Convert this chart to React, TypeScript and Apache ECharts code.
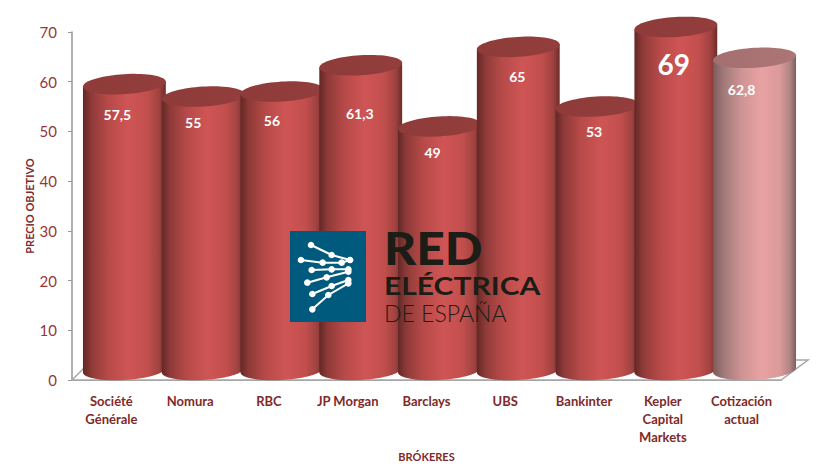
import React, { useEffect, useRef } from "react";
import * as echarts from "echarts";

const categories = ["Société\nGénérale", "Nomura", "RBC", "JP Morgan", "Barclays", "UBS", "Bankinter", "Kepler\nCapital\nMarkets", "Cotización\nactual"];
const targetValues = [57.5, 55, 56, 61.3, 49, 65, 53, 69, 62.8];
const valueLabels = ["57,5", "55", "56", "61,3", "49", "65", "53", "69", "62,8"];
const yTicks = { min: 0, max: 70, interval: 10 };
const yAxisTitle = "PRECIO OBJETIVO";
const xAxisTitle = "BRÓKERES";

// hand placement of the data labels, relative to the front plane value position
const labelNudgeX = [-6, -9, -9, 0, -6, 0, -2, -1, -12];
const labelNudgeY = [20, 16, 19, 38, 16, 20, 15, 27, 22];

const DEPTH_X = 12;
const DEPTH_Y = 10;
const RX = 41.5;
const RY = 10;
const TILT = (-3.5 * Math.PI) / 180;
const WIDE_BAR_SHIFT = 1;

function ellipsePts(cx: number, cy: number, from = 0, to = Math.PI * 2, n = 72) {
  const pts: number[][] = [];
  for (let i = 0; i <= n; i++) {
    const a = from + ((to - from) * i) / n;
    const x = RX * Math.cos(a);
    const y = RY * Math.sin(a);
    pts.push([cx + x * Math.cos(TILT) - y * Math.sin(TILT), cy + x * Math.sin(TILT) + y * Math.cos(TILT)]);
  }
  return pts;
}

function grad(stops: [number, string][]) {
  return new echarts.graphic.LinearGradient(0, 0, 1, 0, stops.map(([offset, color]) => ({ offset, color })));
}

const isRef = (i: number) => i === categories.length - 1;

function renderItem(params: any, api: any) {
  const i = api.value(0);
  const top = api.coord([i, api.value(1)]);
  const base = api.coord([i, 0]);
  const cx = top[0] + DEPTH_X + WIDE_BAR_SHIFT;
  const topY = top[1] - DEPTH_Y;
  const baseY = base[1] - DEPTH_Y;
  const light = isRef(i);
  const children: any[] = [];
  if (i === 0) {
    const cs = params.coordSys;
    const l = cs.x, r = cs.x + cs.width, b = cs.y + cs.height;
    children.push({
      type: "polygon",
      shape: { points: [[l, b], [r, b], [r + 27, b - 20], [l + 20, b - 20]] },
      style: { fill: "#fff", stroke: "#a6a6a6", lineWidth: 1.5 },
    });
  }
  const bodyPts = [
    ...ellipsePts(cx, baseY, 0, Math.PI),
    ...ellipsePts(cx, topY, Math.PI, Math.PI, 1).slice(0, 1),
    ...ellipsePts(cx, topY, 0, 0, 1).slice(0, 1),
  ];
  children.push({
    type: "polygon",
    shape: { points: bodyPts },
    style: {
      fill: light
        ? grad([[0, "#7d5b5b"], [0.12, "#a07878"], [0.35, "#d09494"], [0.58, "#e8a2a2"], [0.8, "#dc9a9a"], [0.93, "#b08484"], [1, "#7d5e5e"]])
        : grad([[0, "#622826"], [0.1, "#8e3a38"], [0.3, "#b64a48"], [0.55, "#cf5555"], [0.78, "#c24f4d"], [0.92, "#9f4240"], [1, "#6c2d2b"]]),
    },
  });
  children.push({
    type: "polygon",
    shape: { points: ellipsePts(cx, topY) },
    style: { fill: light ? grad([[0, "#a56f6f"], [1, "#ac7676"]]) : grad([[0, "#8e3b39"], [1, "#933e3c"]]) },
  });
  children.push({
    type: "text",
    style: {
      x: top[0] + DEPTH_X + labelNudgeX[i],
      y: top[1] + labelNudgeY[i],
      text: valueLabels[i],
      fill: "#fff",
      fontFamily: "Lato",
      fontWeight: "bold",
      fontSize: api.value(1) === Math.max(...targetValues) ? 28 : 14,
      align: "center",
      verticalAlign: "middle",
    },
  });
  return { type: "group", children };
}

const logoLines = [
  [[93, 75], [155, 105], [210, 120]],
  [[63, 120], [128, 128], [185, 128], [210, 120]],
  [[95, 150], [155, 148], [205, 148]],
  [[82, 188], [140, 172], [205, 155]],
  [[97, 222], [155, 198], [205, 180]],
  [[97, 268], [145, 225], [205, 190]],
];
const lp = (p: number[]) => [280 + p[0] / 3, 220 + p[1] / 3];

function logo() {
  const Z = 50;
  const kids: any[] = [{ type: "rect", z: Z, shape: { x: 290, y: 231, width: 76, height: 91 }, style: { fill: "#005a7d" } }];
  logoLines.forEach((ln) => {
    kids.push({ type: "polyline", z: Z, shape: { points: ln.map(lp) }, style: { stroke: "#fff", lineWidth: 2, fill: "none" } });
    ln.forEach((p) => {
      const q = lp(p);
      kids.push({ type: "circle", z: Z, shape: { cx: q[0], cy: q[1], r: 3.3 }, style: { fill: "#fff" } });
    });
  });
  const t = (text: string, x: number, y: number, size: number, weight: string, scaleX: number) => ({
    type: "text",
    z: Z,
    x,
    y,
    scaleX,
    style: { text, x: 0, y: 0, fill: "#1d1d17", fontFamily: "Lato", fontSize: size, fontWeight: weight, align: "left", verticalAlign: "middle" },
  });
  kids.push(t("RED", 384, 247, 46, "900", 1.08));
  kids.push(t("ELÉCTRICA", 384, 285, 25, "bold", 1.2));
  kids.push(t("DE ESPAÑA", 384, 313, 24, "300", 0.96));
  return { type: "group", z: Z, children: kids };
}

export default function App() {
  const ref = useRef<HTMLDivElement>(null);
  useEffect(() => {
    document.body.style.margin = "0";
    const chart = echarts.init(ref.current!, null, { renderer: "svg" });
    chart.setOption({
      animation: false,
      backgroundColor: "#fff",
      grid: { left: 72, right: 43, top: 32, bottom: 92 },
      xAxis: {
        type: "category",
        data: categories,
        axisTick: { show: false },
        axisLine: { lineStyle: { color: "#a6a6a6", width: 2 } },
        axisLabel: { interval: 0, color: "#7f2a2a", fontFamily: "Lato", fontWeight: "bold", fontSize: 13, lineHeight: 18, margin: 12 },
        name: xAxisTitle,
        nameLocation: "middle",
        nameGap: 71,
        nameMoveOverlap: false,
        nameTextStyle: { color: "#7f2a2a", fontFamily: "Lato", fontWeight: "bold", fontSize: 11 },
      },
      yAxis: {
        type: "value",
        ...yTicks,
        splitLine: { show: false },
        axisTick: { show: true, length: 4, lineStyle: { color: "#969696" } },
        axisLine: { show: true, lineStyle: { color: "#969696", width: 1.5 } },
        axisLabel: { color: "#953735", fontFamily: "Lato", fontSize: 15, margin: 15 },
        name: yAxisTitle,
        nameLocation: "middle",
        nameGap: 37,
        nameMoveOverlap: false,
        nameTextStyle: { color: "#7f2a2a", fontFamily: "Lato", fontWeight: "bold", fontSize: 11 },
      },
      series: [
        {
          type: "custom",
          clip: false,
          renderItem,
          encode: { x: 0, y: 1 },
          data: targetValues.map((v, i) => [i, v]),
        },
      ],
      graphic: [logo()],
    });
    return () => chart.dispose();
  }, []);
  return <div ref={ref} style={{ width: 824, height: 472 }} />;
}
